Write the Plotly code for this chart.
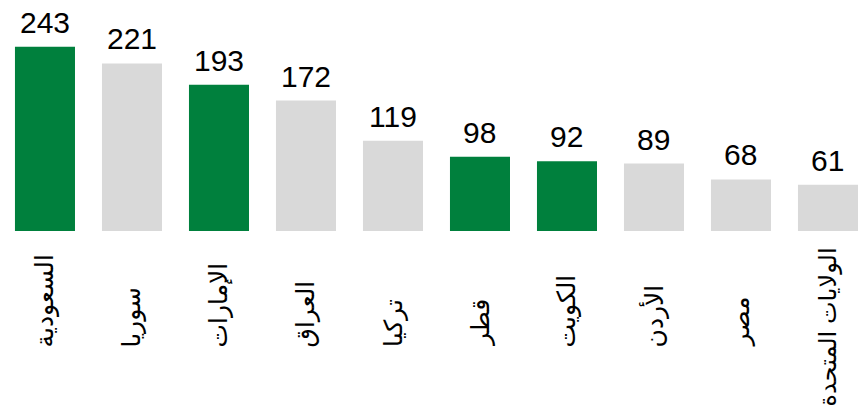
import plotly.graph_objects as go

# Data
categories = ["السعودية", "سوريا", "الإمارات", "العراق", "تركيا",
              "قطر", "الكويت", "الأردن", "مصر", "الولايات المتحدة"]
values = [243, 221, 193, 172, 119, 98, 92, 89, 68, 61]
highlight = [True, False, True, False, False, True, True, False, False, False]

GREEN = "#00803D"
GRAY = "#D9D9D9"
colors = [GREEN if h else GRAY for h in highlight]

FONT = "Arial, 'Liberation Sans', 'DejaVu Sans', sans-serif"

fig = go.Figure()
fig.add_trace(go.Bar(
    x=categories,
    y=values,
    marker=dict(color=colors, line=dict(width=0)),
    width=0.69,
    hoverinfo="skip",
))

annotations = []
# Value labels above bars
for cat, v in zip(categories, values):
    annotations.append(dict(
        x=cat, xref="x", y=v, yref="y",
        text=str(v), showarrow=False,
        xanchor="center", yanchor="bottom", yshift=6,
        font=dict(family=FONT, size=30, color="#000000"),
    ))

# Category labels (rotated), placed on the x axis scale
for cat in categories:
    long_label = len(cat) > 10
    annotations.append(dict(
        x=cat, xref="x",
        y=0, yref="y",
        text=cat,
        textangle=-90,
        showarrow=False,
        yanchor="top" if long_label else "bottom",
        xanchor="center",
        yshift=-14 if long_label else -118,
        font=dict(family=FONT, size=24 if long_label else 25, color="#000000"),
    ))

fig.update_layout(
    width=858, height=409,
    margin=dict(l=0, r=0, t=0, b=178),
    paper_bgcolor="white",
    plot_bgcolor="white",
    showlegend=False,
    annotations=annotations,
    xaxis=dict(
        type="category",
        range=[-0.517, 9.345],
        showticklabels=False,
        showgrid=False,
        zeroline=False,
        showline=False,
        ticks="",
    ),
    yaxis=dict(
        range=[0, 304.6],
        visible=False,
        showgrid=False,
        zeroline=False,
    ),
)

fig.write_html(
    "out.html",
    config={"displayModeBar": False, "staticPlot": True},
    post_script="document.body.style.margin='0';document.body.style.padding='0';",
)
